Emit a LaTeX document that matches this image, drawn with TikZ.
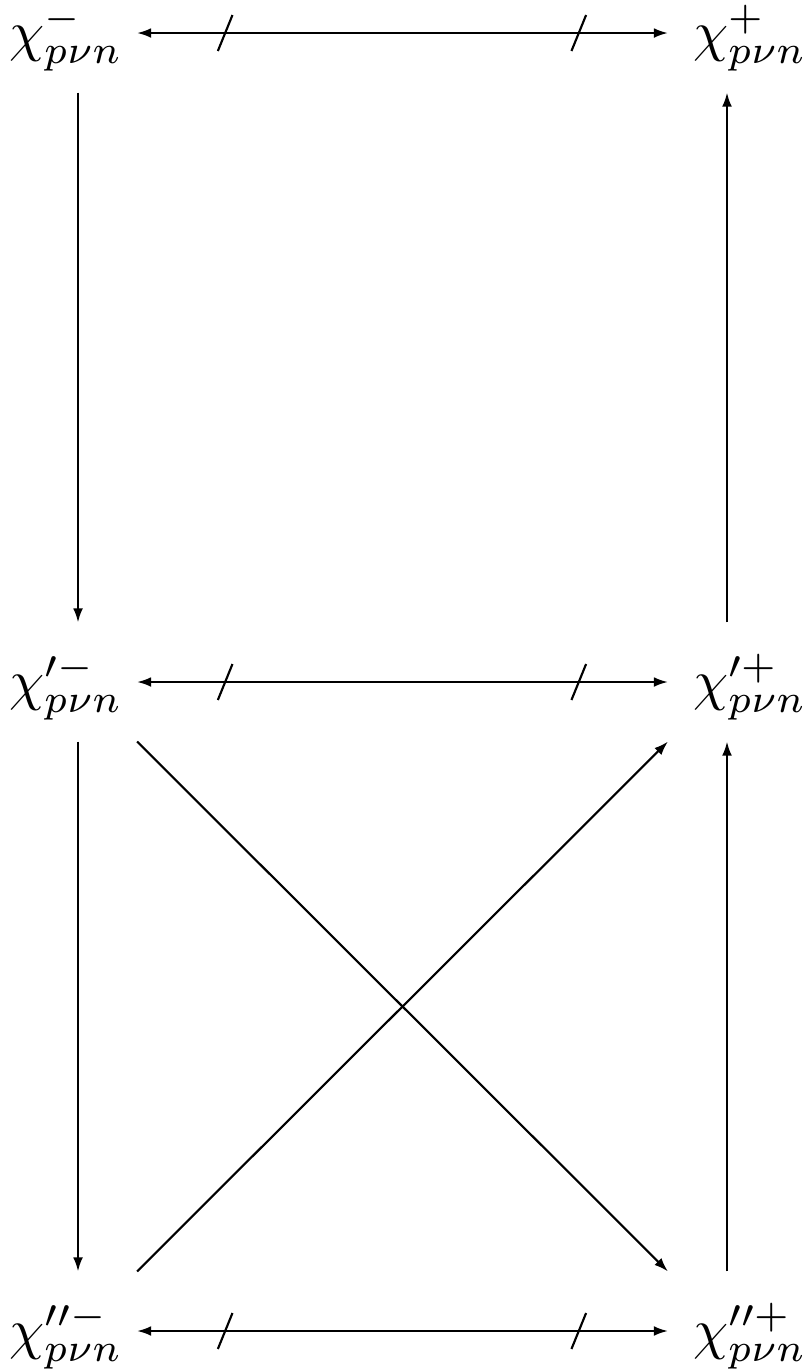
\documentclass[tikz,border=0pt]{standalone}
\usepackage{amsmath}
\usepackage{amssymb}
\usetikzlibrary{arrows.meta, decorations.markings}

\begin{document}
\begin{tikzpicture}[
    x=0.164pt, y=-0.164pt,
    >={Latex[length=2.3pt,width=1.6pt]},
    line width=0.35pt,
    every node/.style={inner sep=0pt, anchor=base, scale=0.92, transform shape},
    crossed/.style={
        postaction={decorate},
        decoration={markings,
            mark=at position 0.166 with {\draw[-] (-1.2pt,-2.95pt) -- (1.2pt,2.95pt);},
            mark=at position 0.832 with {\draw[-] (-1.2pt,-2.95pt) -- (1.2pt,2.95pt);}
        }
    }
]
\useasboundingbox (0,0) rectangle (810,1371);

% left column
\node (tl) at (66,50)   {$\chi^{-}_{p\nu n}$};
\node (ml) at (66,699)  {$\chi^{\prime -}_{p\nu n}$};
\node (bl) at (66,1348) {$\chi^{\prime\prime -}_{p\nu n}$};

% right column
\node (tr) at (750,50)   {$\chi^{+}_{p\nu n}$};
\node (mr) at (750,699)  {$\chi^{\prime +}_{p\nu n}$};
\node (br) at (750,1348) {$\chi^{\prime\prime +}_{p\nu n}$};

% arrows
\path[->]
% rows
([shift={(11.65pt,2.79pt)}]tl.base) edge[<->, crossed] ([shift={(-13.45pt,2.79pt)}]tr.base)
([shift={(11.65pt,2.79pt)}]ml.base) edge[<->, crossed] ([shift={(-13.45pt,2.79pt)}]mr.base)
([shift={(11.65pt,2.79pt)}]bl.base) edge[<->, crossed] ([shift={(-13.45pt,2.79pt)}]br.base)

% left column, downwards
([shift={(1.97pt,-6.97pt)}]tl.base) edge ([shift={(1.97pt,12.55pt)}]ml.base)
([shift={(1.97pt,-6.97pt)}]ml.base) edge ([shift={(1.97pt,12.55pt)}]bl.base)

% right column, upwards
([shift={(-3.77pt,12.55pt)}]mr.base) edge ([shift={(-3.77pt,-6.97pt)}]tr.base)
([shift={(-3.77pt,12.55pt)}]br.base) edge ([shift={(-3.77pt,-6.97pt)}]mr.base)

% diagonals
([shift={(11.65pt,-6.97pt)}]ml.base) edge ([shift={(-13.45pt,12.55pt)}]br.base)
([shift={(11.65pt,12.55pt)}]bl.base) edge ([shift={(-13.45pt,-6.97pt)}]mr.base);
\end{tikzpicture}
\end{document}
